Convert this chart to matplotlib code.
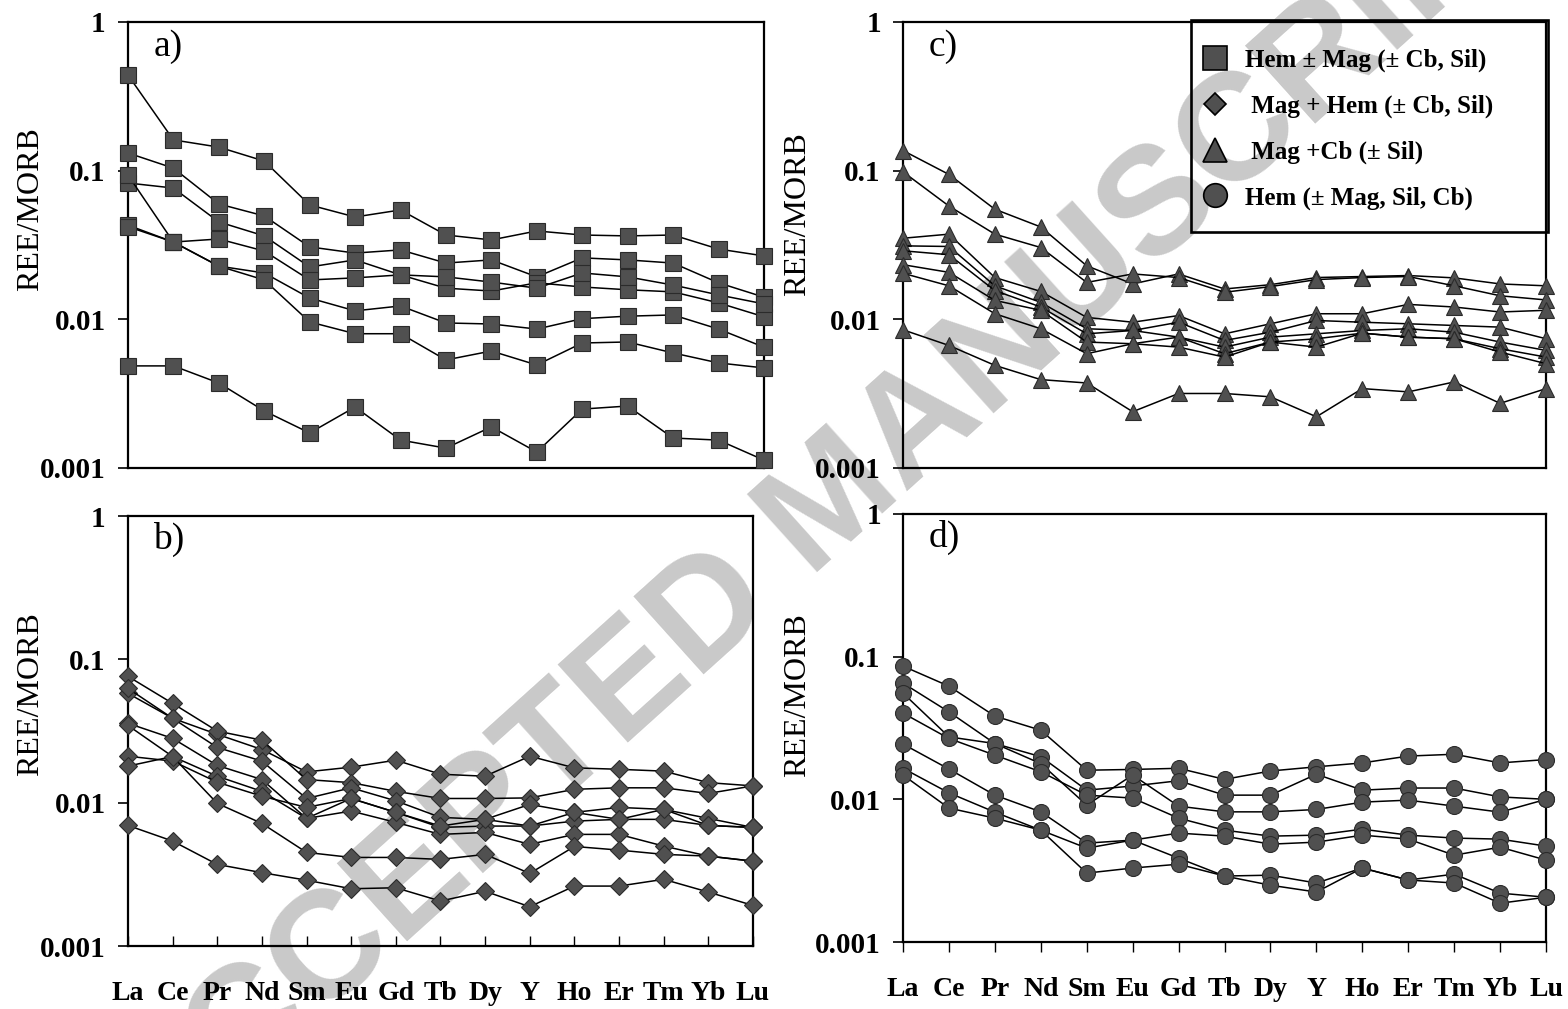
import numpy as np
import matplotlib.pyplot as plt
from matplotlib.lines import Line2D
from matplotlib.patches import Rectangle
from matplotlib.ticker import NullLocator

plt.rcParams['font.family'] = ['Liberation Serif', 'DejaVu Serif']

elements = ['La', 'Ce', 'Pr', 'Nd', 'Sm', 'Eu', 'Gd', 'Tb', 'Dy', 'Y', 'Ho', 'Er', 'Tm', 'Yb', 'Lu']

# a) Hem ± Mag (± Cb, Sil)
a1 = [0.44, 0.161, 0.144, 0.116, 0.0588, 0.0488, 0.0544, 0.0369, 0.0342, 0.0393, 0.0369, 0.0364, 0.0369, 0.0297, 0.0267]
a2 = [0.1315, 0.104, 0.0597, 0.0496, 0.0307, 0.0279, 0.0293, 0.0239, 0.0251, 0.0193, 0.0259, 0.0251, 0.0239, 0.0176, 0.0141]
a3 = [0.0826, 0.0764, 0.0452, 0.0364, 0.0225, 0.0251, 0.0199, 0.0162, 0.0155, 0.0176, 0.0165, 0.0158, 0.0153, 0.0129, 0.0104]
a4 = [0.0935, 0.0331, 0.0347, 0.0288, 0.0184, 0.0190, 0.0199, 0.0193, 0.0178, 0.0162, 0.0205, 0.0193, 0.0170, 0.0146, 0.0127]
a5 = [0.0430, 0.0331, 0.0228, 0.0205, 0.0139, 0.0114, 0.0123, 0.00945, 0.0093, 0.0086, 0.0101, 0.0105, 0.0107, 0.0086, 0.0065]
a6 = [0.0420, 0.0331, 0.0228, 0.0184, 0.0096, 0.0080, 0.0080, 0.00533, 0.00612, 0.00493, 0.00693, 0.00704, 0.00594, 0.00509, 0.00471]
a7 = [0.00486, 0.00486, 0.00373, 0.00242, 0.00172, 0.00257, 0.00154, 0.00136, 0.00189, 0.00128, 0.00249, 0.00261, 0.00159, 0.00154, 0.00113]

# b) Mag + Hem (± Cb, Sil)
b1 = [0.0579, 0.0388, 0.0300, 0.0235, 0.0164, 0.0177, 0.0198, 0.0158, 0.0153, 0.0211, 0.0175, 0.0171, 0.0166, 0.0138, 0.0131]
b2 = [0.0761, 0.0493, 0.0316, 0.0273, 0.0145, 0.0138, 0.0120, 0.0107, 0.0107, 0.0108, 0.0124, 0.0127, 0.0127, 0.0116, 0.0131]
b3 = [0.0627, 0.0388, 0.0243, 0.0195, 0.0107, 0.0127, 0.0103, 0.0079, 0.00765, 0.00973, 0.00856, 0.00927, 0.00898, 0.00777, 0.00672]
b4 = [0.0358, 0.0281, 0.0182, 0.0145, 0.00777, 0.0107, 0.00856, 0.00672, 0.00687, 0.00687, 0.00744, 0.00765, 0.00765, 0.00694, 0.00672]
b5 = [0.0346, 0.0210, 0.0153, 0.0120, 0.00777, 0.00874, 0.00729, 0.00601, 0.0062, 0.00512, 0.00601, 0.00601, 0.00498, 0.00424, 0.00391]
b6 = [0.0211, 0.0195, 0.0139, 0.0111, 0.00927, 0.0107, 0.00856, 0.00687, 0.00765, 0.00687, 0.00856, 0.00765, 0.00898, 0.00694, 0.00672]
b7 = [0.0180, 0.0210, 0.00989, 0.00717, 0.0045, 0.00415, 0.00415, 0.00402, 0.00436, 0.00321, 0.00495, 0.00467, 0.00436, 0.00424, 0.00391]
b8 = [0.00694, 0.0054, 0.00371, 0.00325, 0.00288, 0.00251, 0.00255, 0.00206, 0.00241, 0.00188, 0.00262, 0.00262, 0.00292, 0.00238, 0.00192]

# c) Mag + Cb (± Sil)
c1 = [0.1365, 0.0943, 0.0550, 0.0418, 0.0229, 0.0173, 0.0202, 0.0160, 0.0171, 0.0191, 0.0194, 0.0197, 0.0190, 0.0173, 0.0168]
c2 = [0.0982, 0.0578, 0.0374, 0.0304, 0.0177, 0.0202, 0.0191, 0.0152, 0.0166, 0.0185, 0.0191, 0.0194, 0.0168, 0.0144, 0.0135]
c3 = [0.0351, 0.0374, 0.0191, 0.0154, 0.0103, 0.00956, 0.0106, 0.00799, 0.00933, 0.0109, 0.0109, 0.0126, 0.0121, 0.0112, 0.0115]
c4 = [0.0312, 0.0309, 0.0168, 0.0130, 0.00864, 0.00841, 0.00956, 0.00721, 0.00819, 0.00982, 0.00956, 0.00933, 0.00909, 0.00886, 0.00740]
c5 = [0.0289, 0.0272, 0.0156, 0.0121, 0.00799, 0.00841, 0.00759, 0.0065, 0.00759, 0.00799, 0.00841, 0.00864, 0.00819, 0.00703, 0.00618]
c6 = [0.0233, 0.0207, 0.0134, 0.0115, 0.00703, 0.00685, 0.00759, 0.00587, 0.00703, 0.0074, 0.00807, 0.00759, 0.0074, 0.00634, 0.00557]
c7 = [0.0204, 0.0168, 0.0109, 0.00864, 0.00587, 0.00685, 0.0065, 0.00557, 0.00703, 0.0065, 0.00807, 0.00759, 0.0074, 0.00602, 0.00503]
c8 = [0.0085, 0.00667, 0.0049, 0.00393, 0.00373, 0.00239, 0.00317, 0.00317, 0.00301, 0.00221, 0.00342, 0.00325, 0.00379, 0.00272, 0.00342]

# d) Hem (± Mag, Sil, Cb)
d1 = [0.0858, 0.0621, 0.0383, 0.0305, 0.0160, 0.0162, 0.0165, 0.0138, 0.0158, 0.0169, 0.0180, 0.0201, 0.0207, 0.0180, 0.0190]
d2 = [0.0652, 0.0410, 0.0246, 0.0199, 0.0116, 0.0124, 0.0135, 0.0107, 0.0107, 0.0150, 0.0116, 0.0120, 0.0120, 0.0104, 0.0100]
d3 = [0.0555, 0.0274, 0.0246, 0.0178, 0.00911, 0.0148, 0.00896, 0.00817, 0.00817, 0.00849, 0.00956, 0.00987, 0.00896, 0.00813, 0.0100]
d4 = [0.0402, 0.0267, 0.0204, 0.0156, 0.0107, 0.0102, 0.00738, 0.00608, 0.00552, 0.00561, 0.00618, 0.00561, 0.00535, 0.00526, 0.00470]
d5 = [0.0244, 0.0163, 0.0107, 0.00817, 0.00493, 0.00518, 0.0058, 0.00552, 0.00485, 0.00501, 0.00561, 0.00526, 0.00406, 0.00462, 0.00375]
d6 = [0.0165, 0.0111, 0.00813, 0.00608, 0.00455, 0.00518, 0.00387, 0.0029, 0.00294, 0.00259, 0.0033, 0.00272, 0.00299, 0.0022, 0.00206]
d7 = [0.0148, 0.00868, 0.00738, 0.00608, 0.00304, 0.0033, 0.00351, 0.0029, 0.0025, 0.00224, 0.0033, 0.00272, 0.00259, 0.00187, 0.00206]

legend_labels = ['Hem \u00b1 Mag (\u00b1 Cb, Sil)', ' Mag + Hem (\u00b1 Cb, Sil)',
                 ' Mag +Cb (\u00b1 Sil)', 'Hem (\u00b1 Mag, Sil, Cb)']

yticks = [0.001, 0.01, 0.1, 1]
yticklabels = ['0.001', '0.01', '0.1', '1']

face = '#505050'
edge = '#2b2b2b'

fig = plt.figure(figsize=(15.68, 10.09), dpi=100)

# marca de agua detrás de los paneles
fig.text(0.532, 0.500, 'ACCEPTED MANUSCRIPT', rotation=42, fontsize=110,
         family='Liberation Sans', weight='bold', color='#c9c9c9',
         ha='center', va='center', zorder=-1)


def dibujar_panel(rect, series, marker, ms, letra, xlabels, tick_dir):
    ax = fig.add_axes(rect)
    ax.patch.set_alpha(0)
    x = np.arange(len(elements))
    for s in series:
        ax.plot(x, s, color='black', lw=1.1, marker=marker, ms=ms,
                mfc=face, mec=edge, mew=0.8, clip_on=False, zorder=3)

    ax.set_yscale('log')
    ax.set_ylim(0.001, 1)
    ax.set_xlim(0, len(elements) - 1)
    ax.set_yticks(yticks)
    ax.set_yticklabels(yticklabels, fontsize=21, fontweight='bold')
    ax.yaxis.set_minor_locator(NullLocator())
    ax.tick_params(axis='y', direction='out', length=7, width=1.2, pad=9)

    if xlabels:
        ax.set_xticks(x)
        ax.set_xticklabels(elements, fontsize=20, fontweight='bold')
        if tick_dir == 'in':
            ax.tick_params(axis='x', direction='in', length=7, width=1.0, pad=25)
        else:
            ax.tick_params(axis='x', direction='out', length=7, width=1.0, pad=18)
    else:
        ax.set_xticks([])

    for sp in ax.spines.values():
        sp.set_linewidth(1.6)

    ax.set_ylabel('REE/MORB', fontsize=23)
    ax.text(0.04, 0.945, letra, transform=ax.transAxes, fontsize=27,
            ha='left', va='center')
    return ax


ax_a = dibujar_panel([0.0816, 0.5362, 0.4056, 0.4420], [a1, a2, a3, a4, a5, a6, a7],
                     's', 12, 'a)', False, None)
ax_b = dibujar_panel([0.0816, 0.0624, 0.3986, 0.4262], [b1, b2, b3, b4, b5, b6, b7, b8],
                     'D', 9.5, 'b)', True, 'in')
ax_c = dibujar_panel([0.5759, 0.5362, 0.4101, 0.4420], [c1, c2, c3, c4, c5, c6, c7, c8],
                     '^', 11.5, 'c)', False, None)
ax_d = dibujar_panel([0.5759, 0.0664, 0.4101, 0.4242], [d1, d2, d3, d4, d5, d6, d7],
                     'o', 11.5, 'd)', True, 'out')

ax_a.yaxis.set_label_coords(-0.131, 0.58)
ax_b.yaxis.set_label_coords(-0.133, 0.585)
ax_c.yaxis.set_label_coords(-0.142, 0.57)
ax_d.yaxis.set_label_coords(-0.142, 0.578)

# Leyenda en el panel c (marco dibujado aparte)
handles = [
    Line2D([], [], ls='none', marker='s', ms=17, mfc=face, mec='black', mew=1.2),
    Line2D([], [], ls='none', marker='D', ms=11.5, mfc=face, mec='black', mew=1.2),
    Line2D([], [], ls='none', marker='^', ms=17, mfc=face, mec='black', mew=1.2),
    Line2D([], [], ls='none', marker='o', ms=17, mfc=face, mec='black', mew=1.2),
]
leg = ax_c.legend(handles, legend_labels, loc='upper left',
                  bbox_to_anchor=(0.7653, 0.952), bbox_transform=fig.transFigure,
                  borderaxespad=0, borderpad=0, frameon=False,
                  prop={'size': 18, 'weight': 'bold'},
                  handlelength=1.2, handletextpad=0.6, labelspacing=0.9)
leg.set_zorder(10)

marco = Rectangle((0.7596, 0.7701), 0.2277, 0.2101, transform=fig.transFigure,
                  facecolor='none', edgecolor='black', lw=1.9, zorder=9, clip_on=False)
ax_c.add_patch(marco)

fig.savefig('out.png', dpi=100)
